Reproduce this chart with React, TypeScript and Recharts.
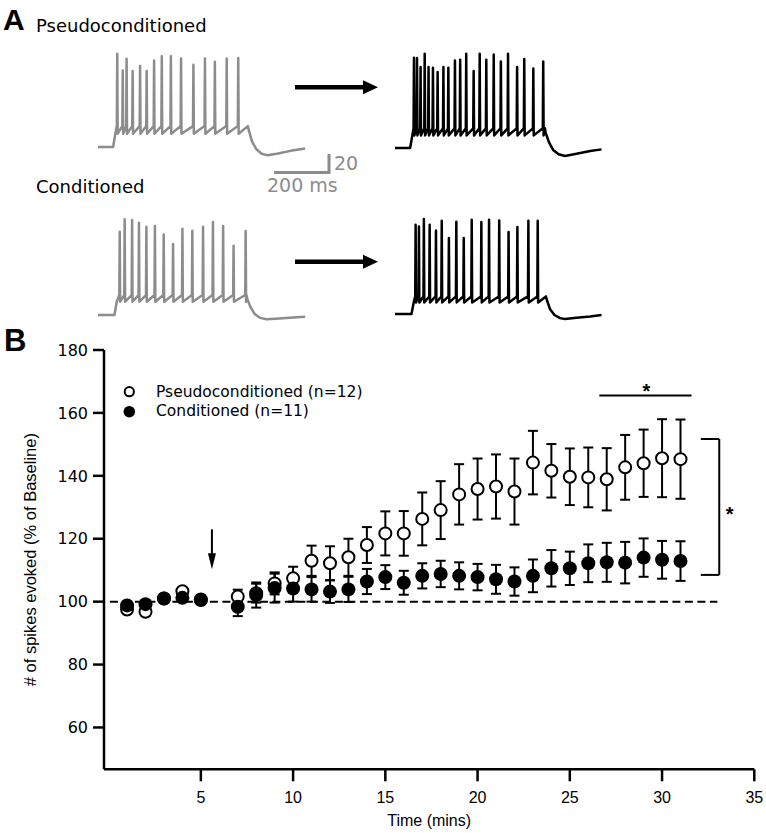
import React from "react";
import {
  ComposedChart,
  LineChart,
  Line,
  Scatter,
  ErrorBar,
  XAxis,
  YAxis,
  ReferenceLine,
  ReferenceDot,
  Legend
} from "recharts";

// Panel B: spikes evoked (% of baseline) vs time
const timeMins = [1, 2, 3, 4, 5, 7, 8, 9, 10, 11, 12, 13, 14, 15, 16, 17, 18, 19, 20, 21, 22, 23, 24, 25, 26, 27, 28, 29, 30, 31];
const pseudoMean = [97.5, 96.8, 101.0, 103.3, 100.5, 101.6, 102.7, 105.8, 107.4, 113.0, 112.2, 114.1, 118.0, 121.7, 121.7, 126.3, 129.1, 134.1, 135.8, 136.6, 135.0, 144.2, 141.6, 139.7, 139.5, 138.9, 142.7, 144.0, 145.6, 145.3];
const pseudoSem = [0.5, 0.5, 0.5, 0.5, 0.5, 2.2, 3.0, 3.5, 3.7, 4.8, 5.4, 5.9, 5.7, 7.0, 7.1, 8.4, 9.2, 9.6, 9.7, 10.2, 10.5, 10.1, 8.5, 9.0, 9.5, 9.9, 10.3, 10.7, 12.4, 12.6];
const condMean = [98.8, 99.2, 101.0, 101.2, 100.7, 98.4, 102.1, 104.3, 104.2, 103.9, 103.2, 103.9, 106.4, 107.8, 106.0, 108.2, 108.8, 108.2, 107.8, 107.1, 106.4, 108.2, 110.6, 110.6, 112.2, 112.5, 112.4, 114.0, 113.3, 112.9];
const condSem = [0.5, 0.5, 0.5, 0.5, 0.5, 3.0, 4.0, 4.6, 4.2, 3.9, 3.6, 4.0, 4.0, 3.8, 3.8, 4.0, 4.2, 4.3, 4.2, 4.6, 4.5, 5.2, 5.8, 5.3, 6.0, 6.2, 6.6, 6.1, 6.0, 6.3];

const xTicks = [5, 10, 15, 20, 25, 30, 35];
const yTicks = [60, 80, 100, 120, 140, 160, 180];

// Panel A: example traces (time in ms, membrane potential in mV)
const pseudoBeforeSpikes = [70, 90, 104, 126, 153, 177, 204, 232, 265, 302, 347, 389, 425, 468, 510];
const pseudoBeforePeaks = [28, 10.5, 22.7, 9.9, 15, 9.9, 20.8, 25.3, 25.3, 23, 16.4, 23.1, 19.5, 23, 23.6];
const pseudoBeforeTail = [[548, -52], [560, -64], [575, -72], [595, -77], [615, -78.5], [650, -77], [700, -74], [753, -71.5]];

const pseudoAfterSpikes = [69, 80, 93, 108, 122, 138, 155, 176, 194, 218, 237, 259, 286, 308, 332, 359, 385, 411, 444, 470, 503, 539];
const pseudoAfterPeaks = [24.9, 24.5, 15.1, 29.1, 15.1, 14.4, 9.8, 15.1, 14.4, 21.8, 22.8, 29.1, 10.9, 29.1, 22.8, 28.1, 21, 29.1, 15.1, 23.5, 13.4, 21];
const pseudoAfterTail = [[548, -54], [560, -64], [575, -72], [595, -76.5], [618, -78.4], [660, -76], [710, -73], [751, -71.4]];

const condBeforeSpikes = [79, 97, 124, 149, 176, 207, 239, 273, 307, 343, 382, 418, 455, 493, 537];
const condBeforePeaks = [17.5, 30.5, 29.8, 26.9, 22.7, 23.5, 14.7, 4.6, 20.6, 18.5, 22.7, 27.7, 23.5, 2.8, 18.2];
const condBeforeTail = [[543, -53], [555, -62], [570, -69], [590, -73], [613, -74.5], [660, -73.5], [710, -72.5], [753, -71.8]];

const condAfterSpikes = [75, 87, 105, 126, 149, 170, 196, 223, 250, 279, 314, 342, 379, 413, 445, 485, 519];
const condAfterPeaks = [23.8, 22, 29.8, 23.8, 17.8, 28, 9.8, 26.9, 9.8, 29, 26.6, 29, 28.3, 16.1, 21.4, 28, 28];
const condAfterTail = [[552, -55], [564, -65], [580, -71], [600, -74.3], [618, -75.3], [660, -74], [710, -72.5], [751, -71]];

const GRAY = "#8c8c8c";
const SANS = "'DejaVu Sans', sans-serif";
const HELV = "'Liberation Sans', Arial, sans-serif";

function buildTrace(
  stepOn: number,
  stepOff: number,
  trough: number,
  ramp: number,
  spikes: number[],
  peaks: number[],
  tail: number[][]
) {
  const rest = -70;
  const pts = [
    { t: 0, v: rest },
    { t: stepOn, v: rest },
    { t: stepOn + 8, v: trough }
  ];
  spikes.forEach((s, i) => {
    pts.push({ t: s - 1.5, v: ramp }, { t: s, v: peaks[i] }, { t: s + 1.5, v: trough });
  });
  pts.push({ t: stepOff, v: ramp });
  tail.forEach(([t, v]) => pts.push({ t, v }));
  return pts;
}

function Trace({ data, color, left, top }: { data: { t: number; v: number }[]; color: string; left: number; top: number }) {
  return (
    <div style={{ position: "absolute", left, top }}>
      <LineChart width={220} height={120} data={data} margin={{ top: 0, right: 0, bottom: 0, left: 0 }}>
        <XAxis type="number" dataKey="t" domain={[0, 800]} hide />
        <YAxis type="number" domain={[-92, 34]} hide allowDataOverflow />
        <Line
          dataKey="v"
          type="linear"
          stroke={color}
          strokeWidth={2.5}
          dot={false}
          strokeLinejoin="round"
          isAnimationActive={false}
        />
      </LineChart>
    </div>
  );
}

const OpenDot = (p: any) => (
  <circle cx={p.cx} cy={p.cy} r={6} fill="#fff" stroke="#000" strokeWidth={2} />
);
const FilledDot = (p: any) => <circle cx={p.cx} cy={p.cy} r={7} fill="#000" />;

const DownArrow = (p: any) => (
  <g>
    <line x1={p.x1} y1={p.y1} x2={p.x2} y2={p.y2 - 14} stroke="#000" strokeWidth={2} />
    <polygon points={`${p.x2 - 4},${p.y2 - 16} ${p.x2 + 4},${p.y2 - 16} ${p.x2},${p.y2}`} fill="#000" />
  </g>
);

const Star = (p: any) => (
  <text x={p.cx} y={p.cy + 11.5} textAnchor="middle" fontFamily={HELV} fontWeight="bold" fontSize={20} fill="#000">
    *
  </text>
);

const renderLegend = () => (
  <svg width={260} height={45}>
    <circle cx={9.3} cy={11.7} r={4.6} fill="#fff" stroke="#000" strokeWidth={2} />
    <circle cx={9.3} cy={31.7} r={5.8} fill="#000" />
    <text x={36} y={16.7} fontFamily={SANS} fontSize={15.5} fill="#000">
      Pseudoconditioned (n=12)
    </text>
    <text x={36} y={36} fontFamily={SANS} fontSize={15.5} fill="#000">
      Conditioned (n=11)
    </text>
  </svg>
);

export default function App() {
  const pseudo = timeMins.map((x, i) => ({ x, y: pseudoMean[i], err: pseudoSem[i] }));
  const cond = timeMins.map((x, i) => ({ x, y: condMean[i], err: condSem[i] }));

  const tr1 = buildTrace(55, 545, -56, -48, pseudoBeforeSpikes, pseudoBeforePeaks, pseudoBeforeTail);
  const tr2 = buildTrace(55, 545, -56.7, -49.3, pseudoAfterSpikes, pseudoAfterPeaks, pseudoAfterTail);
  const tr3 = buildTrace(60, 540, -56, -49, condBeforeSpikes, condBeforePeaks, condBeforeTail);
  const tr4 = buildTrace(60, 549, -57.8, -51.5, condAfterSpikes, condAfterPeaks, condAfterTail);

  return (
    <div style={{ position: "absolute", left: 0, top: 0, width: 766, height: 833, background: "#fff" }}>
      {/* panel labels, arrows, scale bar */}
      <svg width={766} height={360} style={{ position: "absolute", left: 0, top: 0 }}>
        <text x={3} y={30} fontFamily={HELV} fontWeight="bold" fontSize={30} fill="#000">A</text>
        <text x={36} y={32} fontFamily={SANS} fontSize={18} fill="#000">Pseudoconditioned</text>
        <text x={36} y={193} fontFamily={SANS} fontSize={18} fill="#000">Conditioned</text>
        <polygon points="295,85 363,85 363,80.3 378,87.3 363,94.3 363,89.6 295,89.6" fill="#000" />
        <polygon points="295,259.4 363,259.4 363,254.7 378,261.7 363,268.7 363,264 295,264" fill="#000" />
        <polyline points="274,172.5 329,172.5 329,154" fill="none" stroke={GRAY} strokeWidth={3} />
        <text x={334} y={170} fontFamily={SANS} fontSize={19} fill={GRAY}>20</text>
        <text x={267} y={191.5} fontFamily={SANS} fontSize={19} fill={GRAY}>200 ms</text>
        <text x={4} y={351} fontFamily={HELV} fontWeight="bold" fontSize={31} fill="#000">B</text>
      </svg>

      <Trace data={tr1} color={GRAY} left={98} top={48} />
      <Trace data={tr2} color="#000" left={395} top={49} />
      <Trace data={tr3} color={GRAY} left={98} top={216} />
      <Trace data={tr4} color="#000" left={395} top={215} />

      <div style={{ position: "absolute", left: 0, top: 330 }}>
        <ComposedChart width={766} height={503} margin={{ top: 20, right: 11.7, bottom: 0, left: 0 }}>
          <XAxis
            type="number"
            dataKey="x"
            domain={[-0.25, 35]}
            ticks={xTicks}
            tickSize={12}
            tickMargin={10}
            height={63.7}
            axisLine={{ stroke: "#000", strokeWidth: 2.5 }}
            tickLine={{ stroke: "#000", strokeWidth: 2.5 }}
            tick={{ fontFamily: HELV, fontSize: 16, fill: "#000" }}
            label={{
              value: "Time (mins)",
              position: "insideBottom",
              offset: 7,
              style: { fontFamily: HELV, fontSize: 16, fill: "#000" }
            }}
          />
          <YAxis
            type="number"
            dataKey="y"
            domain={[46.7, 180]}
            ticks={yTicks}
            width={104}
            tickSize={11}
            tickMargin={5}
            axisLine={{ stroke: "#000", strokeWidth: 2.5 }}
            tickLine={{ stroke: "#000", strokeWidth: 2.5 }}
            tick={{ fontFamily: SANS, fontSize: 16, fill: "#000" }}
            label={{
              value: "# of spikes evoked (% of Baseline)",
              angle: -90,
              position: "insideLeft",
              offset: 30,
              style: { textAnchor: "middle", fontFamily: HELV, fontSize: 16.5, fill: "#000" }
            }}
          />
          <Legend
            content={renderLegend}
            layout="horizontal"
            verticalAlign="middle"
            align="center"
            wrapperStyle={{ position: "absolute", left: 120, top: 50, width: 260, height: 45 }}
          />
          <ReferenceLine
            segment={[{ x: 0.07, y: 100 }, { x: 33, y: 100 }]}
            stroke="#000"
            strokeWidth={2}
            strokeDasharray="8 4.5"
          />
          <ReferenceLine
            segment={[{ x: 5.6, y: 123 }, { x: 5.6, y: 110.3 }]}
            shape={DownArrow}
          />
          <ReferenceLine segment={[{ x: 26.6, y: 165.5 }, { x: 31.6, y: 165.5 }]} stroke="#000" strokeWidth={2} />
          <ReferenceLine segment={[{ x: 33.1, y: 151.7 }, { x: 33.1, y: 108.5 }]} stroke="#000" strokeWidth={2} />
          <ReferenceLine segment={[{ x: 32.1, y: 151.7 }, { x: 33.1, y: 151.7 }]} stroke="#000" strokeWidth={2} />
          <ReferenceLine segment={[{ x: 32.1, y: 108.5 }, { x: 33.1, y: 108.5 }]} stroke="#000" strokeWidth={2} />
          <ReferenceDot x={29.15} y={168.5} shape={Star} />
          <ReferenceDot x={33.66} y={129.4} shape={Star} />
          <Scatter data={pseudo} shape={OpenDot} isAnimationActive={false}>
            <ErrorBar dataKey="err" direction="y" width={5} stroke="#000" strokeWidth={2} />
          </Scatter>
          <Scatter data={cond} shape={FilledDot} isAnimationActive={false}>
            <ErrorBar dataKey="err" direction="y" width={5} stroke="#000" strokeWidth={2} />
          </Scatter>
        </ComposedChart>
      </div>
    </div>
  );
}
